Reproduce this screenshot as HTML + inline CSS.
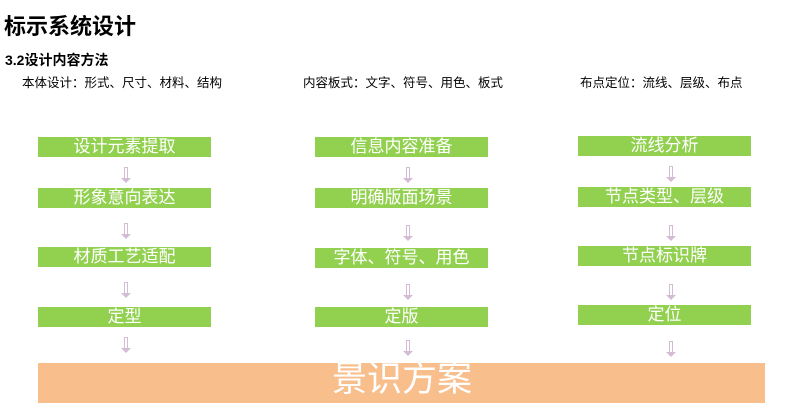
<!DOCTYPE html>
<html><head><meta charset="utf-8"><style>
body{margin:0;width:800px;height:403px;background:#fff;position:relative;overflow:hidden;font-family:"Liberation Sans","Noto Sans CJK SC",sans-serif;}
.t{position:absolute;white-space:nowrap;color:#000;}
.b{position:absolute;width:173px;height:20px;background:#92d050;color:#fff;font-size:17px;line-height:20px;text-align:center;}
.a{position:absolute;width:2px;height:11px;border:1px solid #d4bcd4;border-bottom:none;background:#fff}
.a:after{content:"";position:absolute;left:-4px;top:10px;border-left:5px solid transparent;border-right:5px solid transparent;border-top:5px solid #d4bcd4;}
</style></head><body>
<div class="t" style="left:4px;top:9px;font-size:22px;font-weight:bold;">标示系统设计</div>
<div class="t" style="left:5px;top:50px;font-size:14px;font-weight:bold;">3.2设计内容方法</div>
<div class="t" style="left:22px;top:72px;font-size:12.5px;">本体设计：形式、尺寸、材料、结构</div>
<div class="t" style="left:303px;top:72px;font-size:12.5px;">内容板式：文字、符号、用色、板式</div>
<div class="t" style="left:580px;top:72px;font-size:12.5px;">布点定位：流线、层级、布点</div>

<div class="b" style="left:38px;top:137px">设计元素提取</div>
<div class="b" style="left:38px;top:188px">形象意向表达</div>
<div class="b" style="left:38px;top:247px">材质工艺适配</div>
<div class="b" style="left:38px;top:307px">定型</div>

<div class="b" style="left:315px;top:137px">信息内容准备</div>
<div class="b" style="left:315px;top:188px">明确版面场景</div>
<div class="b" style="left:315px;top:248px">字体、符号、用色</div>
<div class="b" style="left:315px;top:307px">定版</div>

<div class="b" style="left:578px;top:136px">流线分析</div>
<div class="b" style="left:578px;top:187px">节点类型、层级</div>
<div class="b" style="left:578px;top:246px">节点标识牌</div>
<div class="b" style="left:578px;top:305px">定位</div>

<div class="a" style="left:124px;top:167px"></div>
<div class="a" style="left:124px;top:223px"></div>
<div class="a" style="left:124px;top:282px"></div>
<div class="a" style="left:124px;top:337px"></div>
<div class="a" style="left:406px;top:167px"></div>
<div class="a" style="left:406px;top:225px"></div>
<div class="a" style="left:406px;top:284px"></div>
<div class="a" style="left:406px;top:340px"></div>
<div class="a" style="left:669px;top:166px"></div>
<div class="a" style="left:669px;top:225px"></div>
<div class="a" style="left:669px;top:284px"></div>
<div class="a" style="left:669px;top:341px"></div>

<div style="position:absolute;left:38px;top:363px;width:727px;height:40px;background:#f8be8c;"></div>
<div class="t" style="left:332px;top:358px;font-size:35px;color:#fff;line-height:44px;">景识方案</div>
</body></html>
